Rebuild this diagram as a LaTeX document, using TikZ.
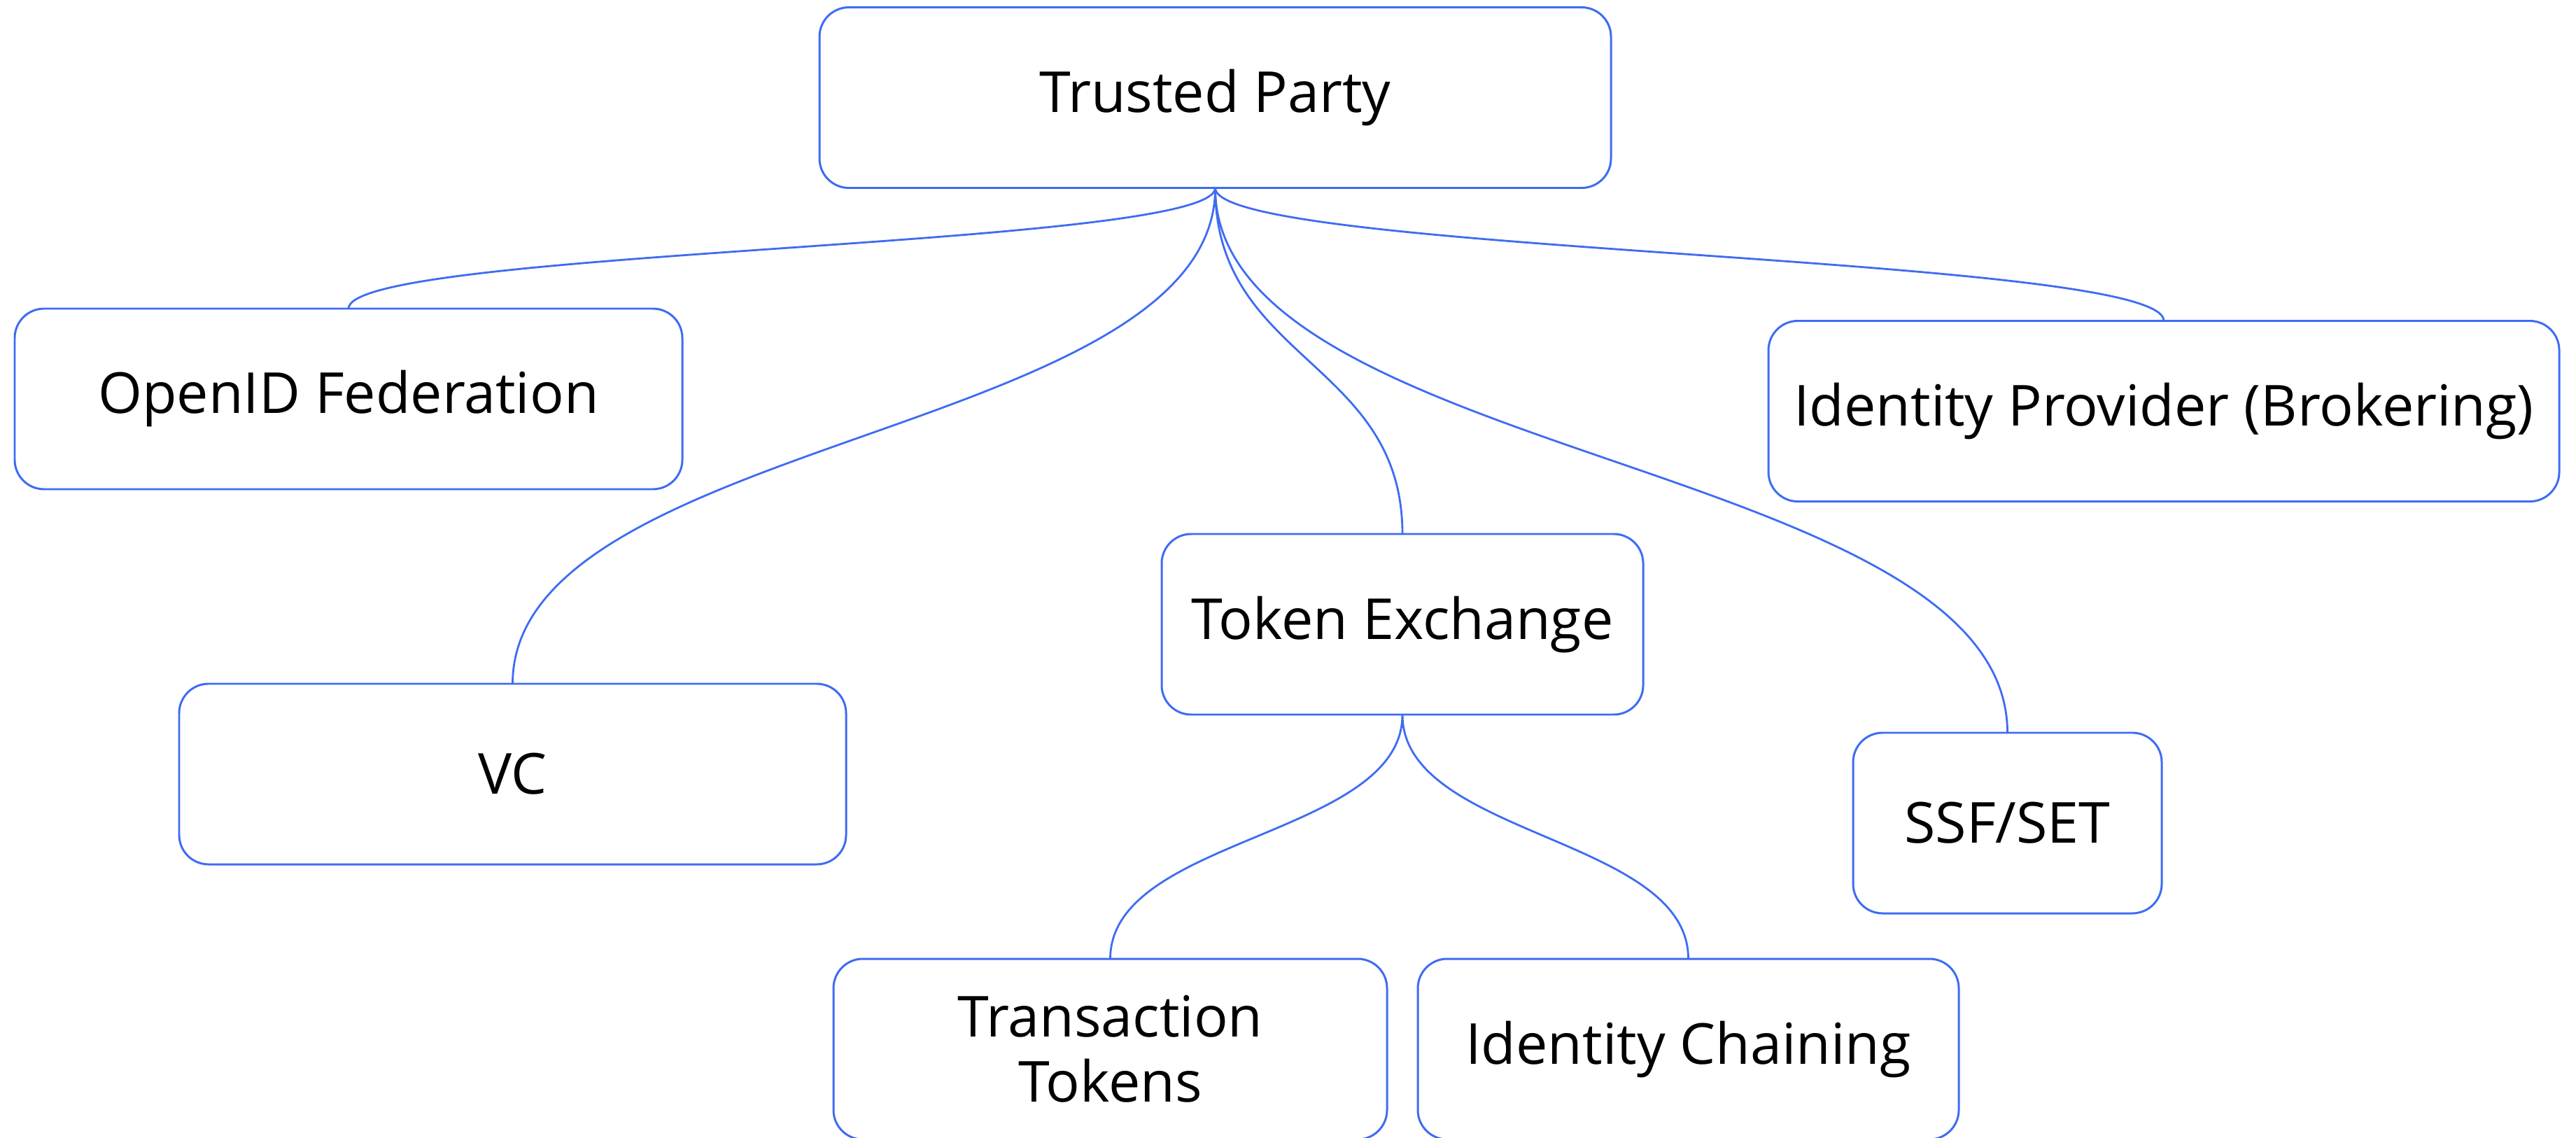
\documentclass[tikz,border=0pt]{standalone}
\usepackage{fontspec}
\setmainfont{Open Sans}
\usepackage{tikz}
\usepackage{xcolor}
\usetikzlibrary{positioning}

\definecolor{linkblue}{RGB}{62,108,242}

\begin{document}
\begin{tikzpicture}[
        topic/.style={rectangle, rounded corners=0.42cm, draw=linkblue, line width=0.85pt, fill=white,
            minimum height=2.58cm, inner sep=0pt, outer sep=0pt, align=center,
            font=\fontsize{23}{26.5}\selectfont},
        branch/.style={draw=linkblue, line width=0.8pt}
    ]
        \useasboundingbox (0,0) rectangle (36.81,-16.26);

        % Root
        \node[topic, minimum width=11.31cm] (tp) at (17.365, -1.395) {Trusted Party};

        % First level
        \node[topic, minimum width=9.54cm] (ofed) at (4.98, -5.70) {OpenID Federation};
        \node[topic, minimum width=9.53cm] (vc) at (7.325, -11.06) {VC};
        \node[topic, minimum width=6.88cm] (tex) at (20.04, -8.92) {Token Exchange};
        \node[topic, minimum width=4.41cm] (ssf) at (28.685, -11.76) {SSF/SET};
        \node[topic, minimum width=11.30cm] (idp) at (30.92, -5.875) {Identity Provider (Brokering)};

        % Second level
        \node[topic, minimum width=7.91cm] (ttok) at (15.865, -14.99) {Transaction\\Tokens};
        \node[topic, minimum width=7.73cm] (ichain) at (24.125, -14.99) {Identity Chaining};

        % Connections
        \draw[branch] (tp.south) .. controls +(0,-0.86) and +(0,0.86) .. (ofed.north);
        \draw[branch] (tp.south) .. controls +(0,-3.54) and +(0,3.54) .. (vc.north);
        \draw[branch] (tp.south) .. controls +(0,-2.47) and +(0,2.47) .. (tex.north);
        \draw[branch] (tp.south) .. controls +(0,-3.89) and +(0,3.89) .. (ssf.north);
        \draw[branch] (tp.south) .. controls +(0,-0.945) and +(0,0.945) .. (idp.north);
        \draw[branch] (tex.south) .. controls +(0,-1.745) and +(0,1.745) .. (ttok.north);
        \draw[branch] (tex.south) .. controls +(0,-1.745) and +(0,1.745) .. (ichain.north);
    \end{tikzpicture}
\end{document}
